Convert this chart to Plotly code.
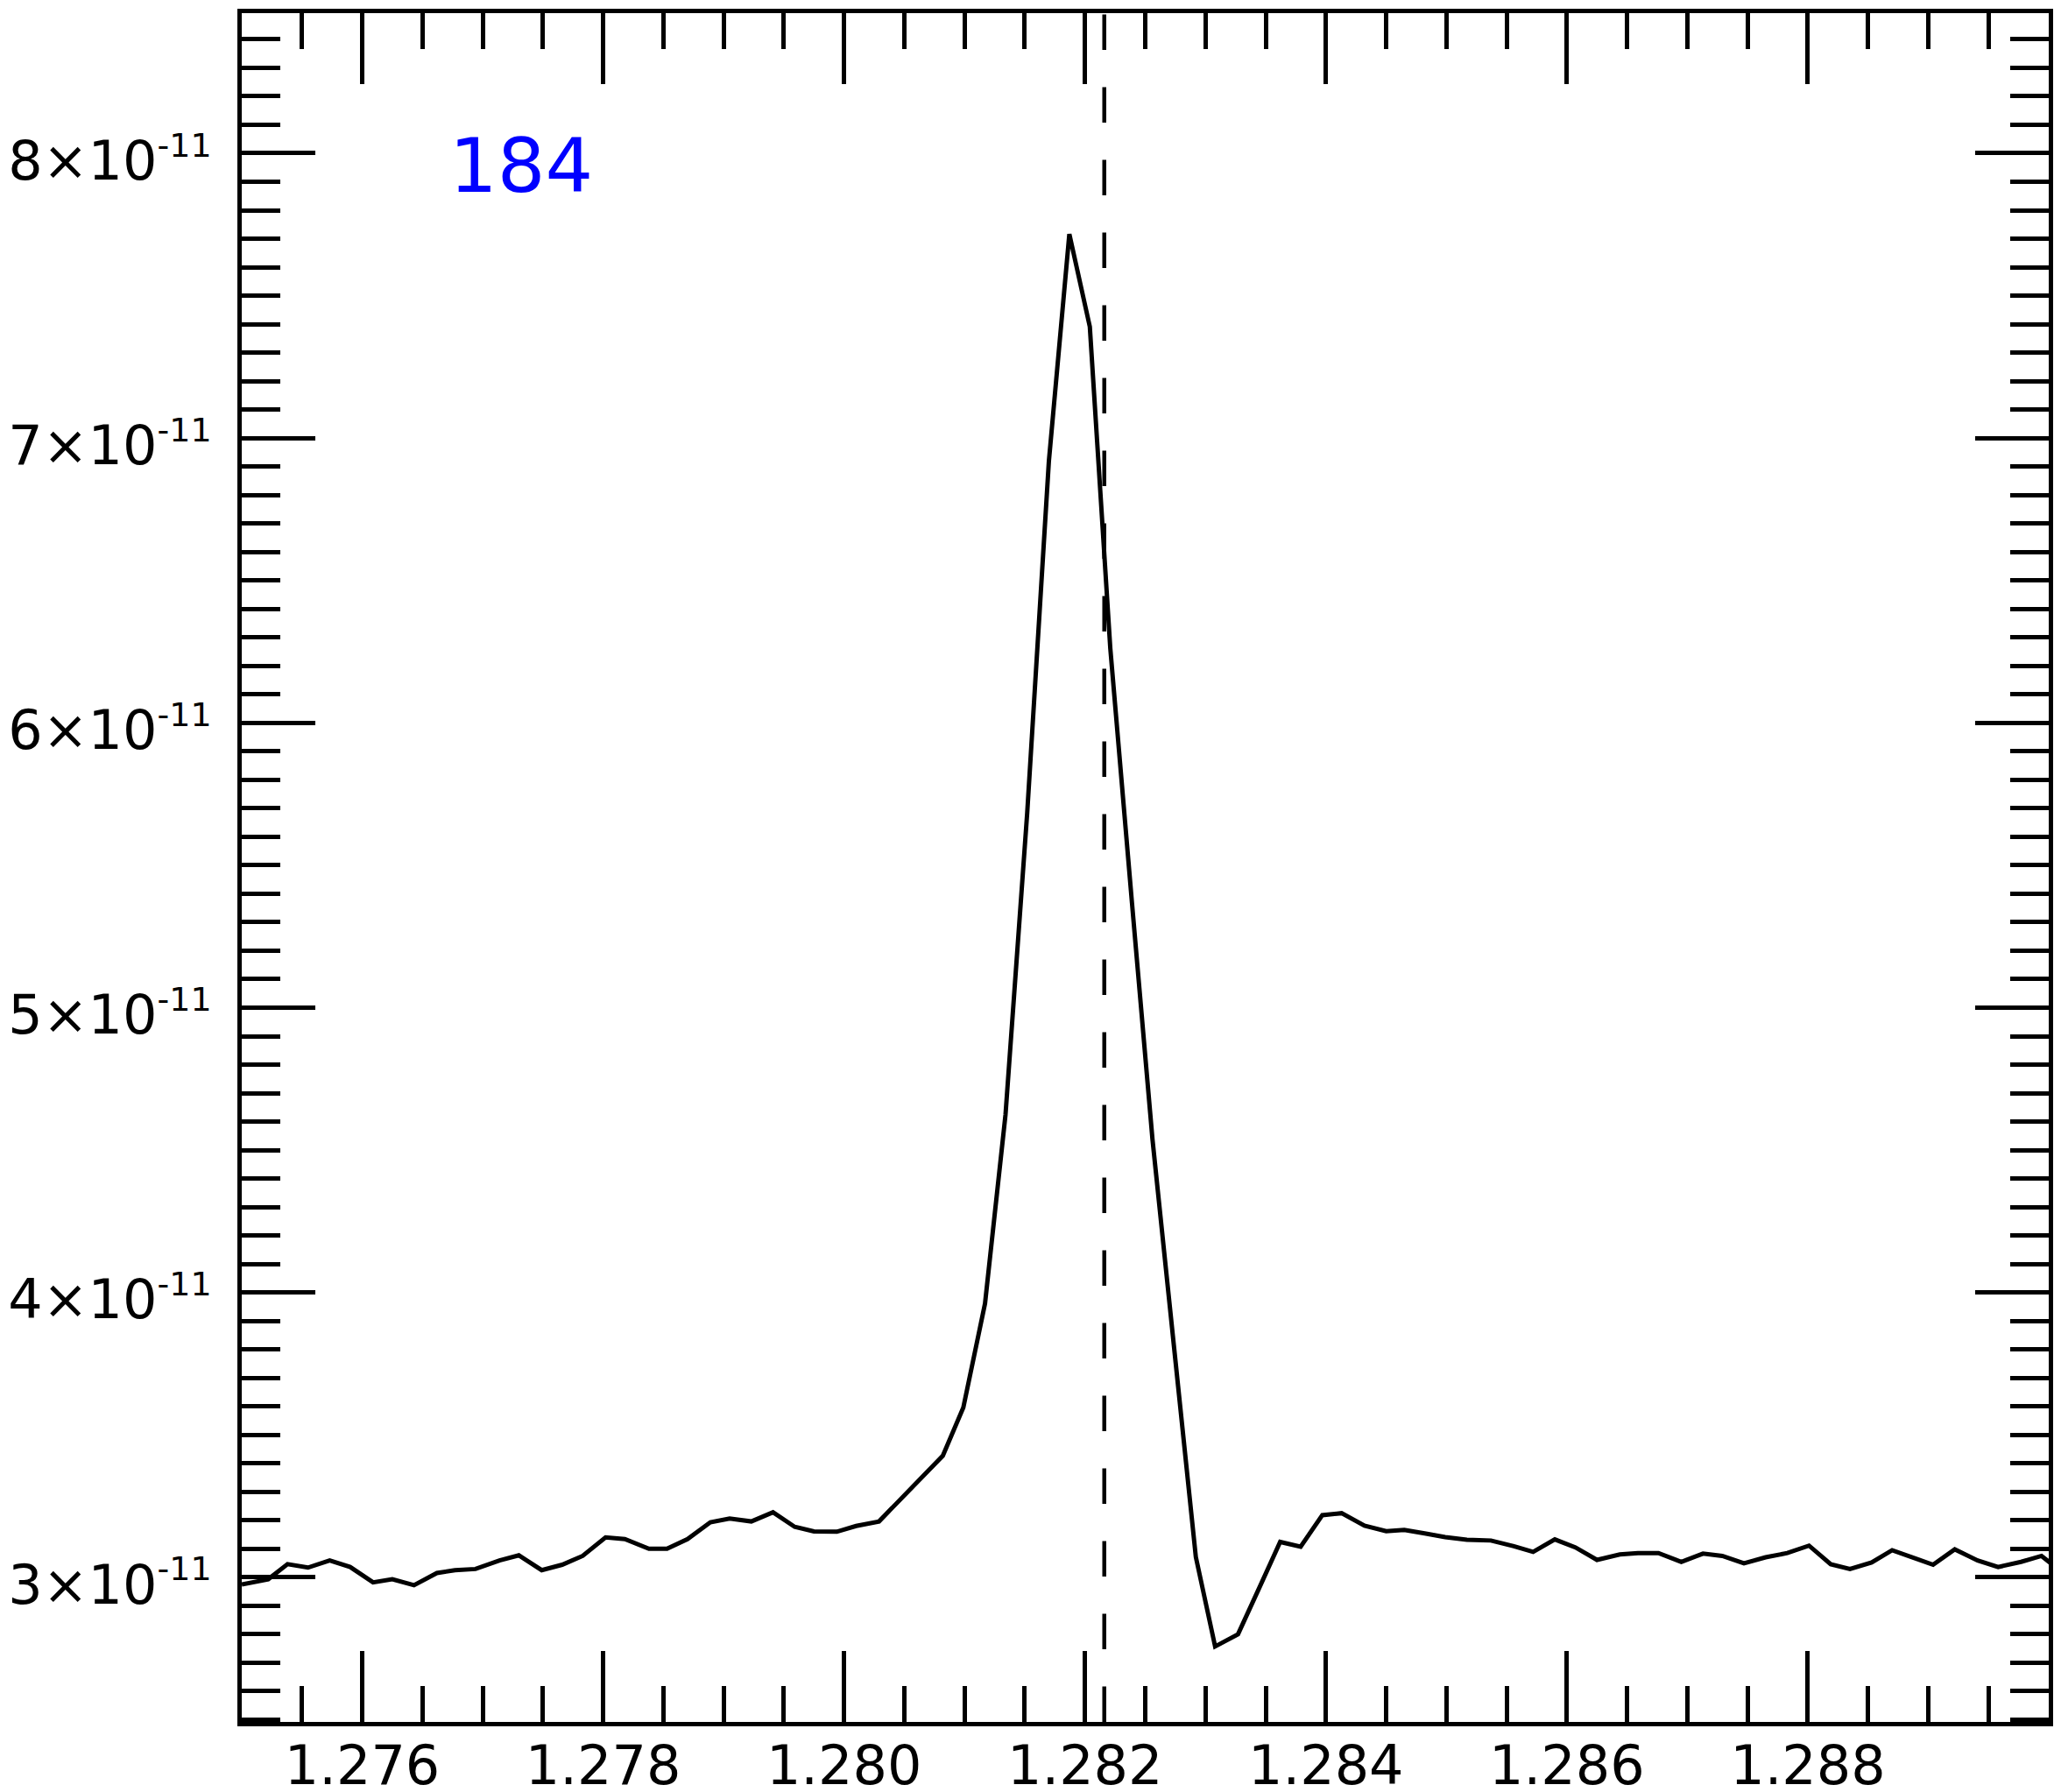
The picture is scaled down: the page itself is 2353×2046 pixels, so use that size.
import plotly.graph_objects as go

# spectrum around Pa-beta, wavelength in micron
wavelength = [
    1.27500, 1.27522, 1.27538, 1.27555, 1.27573, 1.27590, 1.27609, 1.27625, 1.27643, 1.27662,
    1.27677, 1.27694, 1.27714, 1.27730, 1.27749, 1.27766, 1.27783, 1.27802, 1.27818, 1.27838,
    1.27853, 1.27870, 1.27889, 1.27905, 1.27923, 1.27941, 1.27959, 1.27975, 1.27994, 1.28010,
    1.28029, 1.28047, 1.28064, 1.28082, 1.28099, 1.28117, 1.28134, 1.28152, 1.28170, 1.28187,
    1.28204, 1.28221, 1.28239, 1.28256, 1.28274, 1.28292, 1.28308, 1.28327, 1.28345, 1.28362,
    1.28379, 1.28397, 1.28413, 1.28432, 1.28450, 1.28465, 1.28482, 1.28499, 1.28517, 1.28537,
    1.28556, 1.28572, 1.28590, 1.28607, 1.28625, 1.28644, 1.28659, 1.28676, 1.28695, 1.28713,
    1.28729, 1.28747, 1.28765, 1.28783, 1.28801, 1.28819, 1.28835, 1.28853, 1.28870, 1.28887,
    1.28904, 1.28922, 1.28941, 1.28958, 1.28977, 1.28994, 1.29011,
]

flux = [
    2.975e-11, 2.993e-11, 3.046e-11, 3.034e-11, 3.059e-11, 3.036e-11, 2.982e-11, 2.993e-11, 2.972e-11, 3.015e-11,
    3.025e-11, 3.029e-11, 3.059e-11, 3.077e-11, 3.025e-11, 3.044e-11, 3.075e-11, 3.140e-11, 3.134e-11, 3.100e-11,
    3.100e-11, 3.134e-11, 3.193e-11, 3.206e-11, 3.196e-11, 3.228e-11, 3.177e-11, 3.161e-11, 3.160e-11, 3.180e-11,
    3.196e-11, 3.276e-11, 3.350e-11, 3.427e-11, 3.596e-11, 3.961e-11, 4.624e-11, 5.683e-11, 6.918e-11, 7.716e-11,
    7.391e-11, 6.261e-11, 5.367e-11, 4.538e-11, 3.804e-11, 3.071e-11, 2.757e-11, 2.800e-11, 2.966e-11, 3.124e-11,
    3.107e-11, 3.218e-11, 3.225e-11, 3.181e-11, 3.162e-11, 3.166e-11, 3.154e-11, 3.141e-11, 3.132e-11, 3.129e-11,
    3.109e-11, 3.089e-11, 3.133e-11, 3.105e-11, 3.061e-11, 3.080e-11, 3.085e-11, 3.085e-11, 3.054e-11, 3.083e-11,
    3.075e-11, 3.049e-11, 3.070e-11, 3.085e-11, 3.111e-11, 3.046e-11, 3.029e-11, 3.052e-11, 3.095e-11, 3.070e-11,
    3.044e-11, 3.098e-11, 3.059e-11, 3.036e-11, 3.054e-11, 3.075e-11, 3.018e-11,
]

line_center = 1.28216
label = "184"

x_ticks = [1.276, 1.278, 1.280, 1.282, 1.284, 1.286, 1.288]
x_ticktext = ["1.276", "1.278", "1.280", "1.282", "1.284", "1.286", "1.288"]
y_ticks = [3e-11, 4e-11, 5e-11, 6e-11, 7e-11, 8e-11]
y_mantissa = ["3", "4", "5", "6", "7", "8"]
y_ticktext = [m + "×10<sup><span style='font-size:38px'>-11</span></sup>" for m in y_mantissa]

FONT = "DejaVu Sans"

fig = go.Figure()

fig.add_trace(go.Scatter(x=wavelength, y=flux, mode="lines",
                         line=dict(color="black", width=5), showlegend=False))

fig.add_shape(type="line", xref="x", yref="paper",
              x0=line_center, x1=line_center, y0=0, y1=1,
              line=dict(color="black", width=4.5, dash="40.5px,42.5px"))

fig.add_annotation(text=label, xref="paper", yref="paper", x=0.114, y=0.911,
                   xanchor="left", yanchor="middle", showarrow=False,
                   font=dict(family=FONT, size=86, color="#0000ff"))

axis_common = dict(showgrid=False, zeroline=False, showline=True, linecolor="black",
                   linewidth=5, mirror="ticks", ticks="inside", tickwidth=4.5,
                   tickcolor="black", tickmode="array", automargin=False,
                   tickfont=dict(family=FONT, size=62, color="black"))

fig.update_xaxes(range=[1.275, 1.290], tickvals=x_ticks, ticktext=x_ticktext,
                 ticklen=81, ticklabelstandoff=-8,
                 minor=dict(ticks="inside", ticklen=41, tickwidth=4.5, tickcolor="black",
                            tickmode="linear", tick0=1.275, dtick=0.0005, showgrid=False),
                 **axis_common)
fig.update_yaxes(range=[2.492e-11, 8.492e-11], tickvals=y_ticks, ticktext=y_ticktext,
                 ticklen=84, ticklabelstandoff=17, ticklabelshift=8,
                 minor=dict(ticks="inside", ticklen=44, tickwidth=4.5, tickcolor="black",
                            tickmode="linear", tick0=0, dtick=1e-12, showgrid=False),
                 **axis_common)

# the page body adds a small offset, margins compensate for it
fig.update_layout(width=2353, height=2046,
                  margin=dict(l=268, r=22, t=7, b=88),
                  plot_bgcolor="white", paper_bgcolor="white",
                  font=dict(family=FONT, color="black"))

fig.write_html("out.html")
